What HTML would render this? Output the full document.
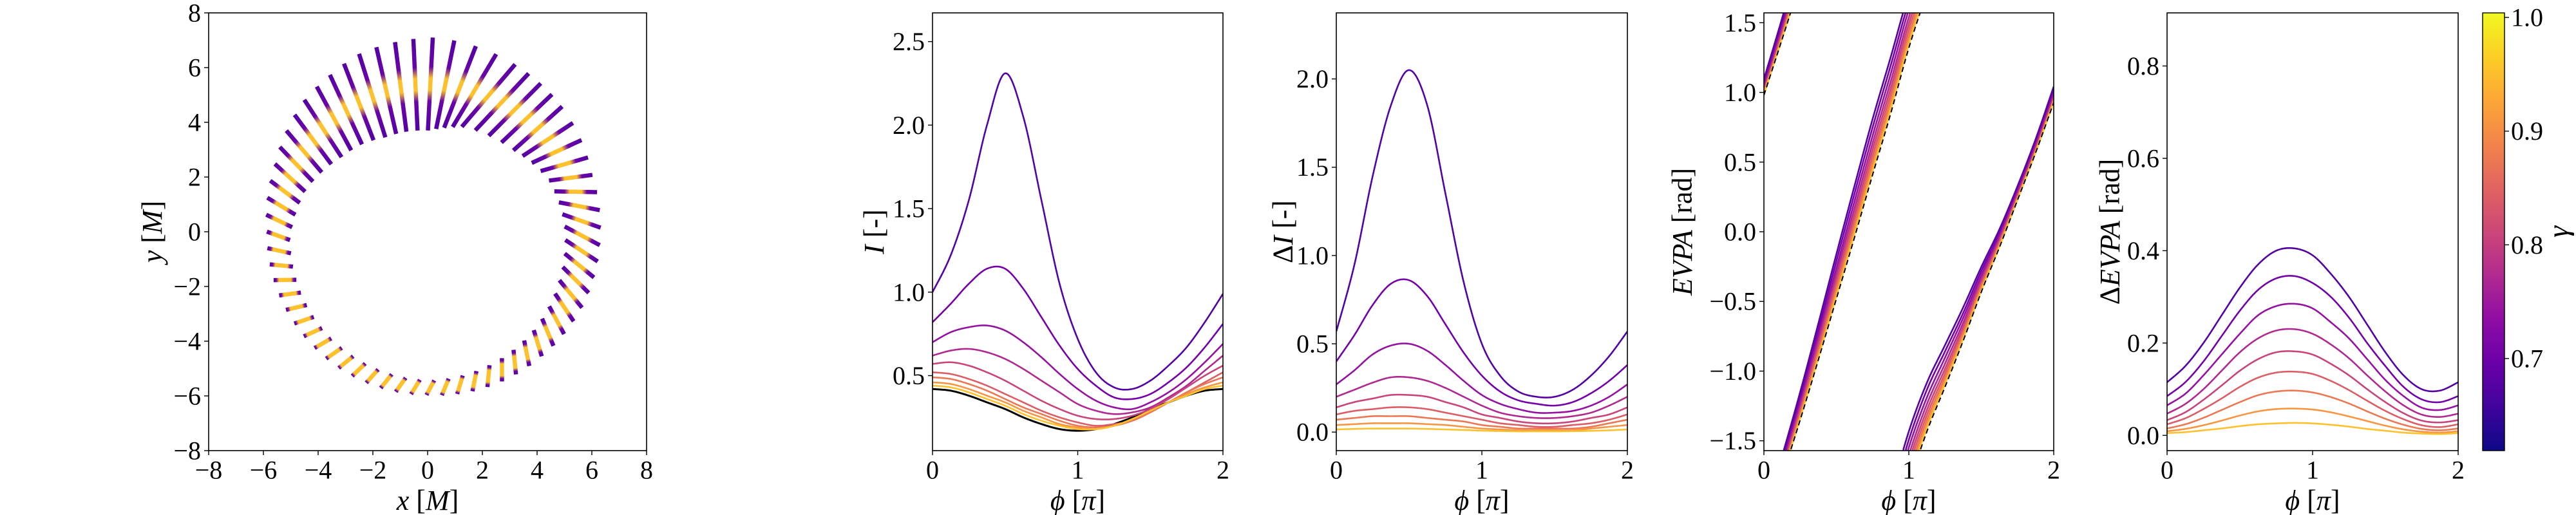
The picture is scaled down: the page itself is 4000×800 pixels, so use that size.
<!DOCTYPE html>
<html><head><meta charset="utf-8">
<style>
html,body{margin:0;padding:0;background:#fff;}
svg{display:block;font-family:"Liberation Serif",serif;}
</style></head>
<body>
<svg id="fig" width="4000" height="800" viewBox="0 0 4000 800" xmlns="http://www.w3.org/2000/svg">
<defs>
<linearGradient id="plasma" x1="0" y1="1" x2="0" y2="0">
<stop offset="0" stop-color="#0d0887"/><stop offset="0.1" stop-color="#41049d"/><stop offset="0.2" stop-color="#6a00a8"/><stop offset="0.3" stop-color="#8f0da4"/><stop offset="0.4" stop-color="#b12a90"/><stop offset="0.5" stop-color="#cc4778"/><stop offset="0.6" stop-color="#e16462"/><stop offset="0.7" stop-color="#f2844b"/><stop offset="0.8" stop-color="#fca636"/><stop offset="0.9" stop-color="#fcce25"/><stop offset="1" stop-color="#f0f921"/>
</linearGradient>
</defs>
</svg>
<script>
// ---------- data ----------
const phiGrid = [0,0.125,0.25,0.375,0.5,0.625,0.75,0.875,1,1.125,1.25,1.375,1.5,1.625,1.75,1.875,2];
const curveColors = ['#5302a3','#7401a8','#9511a1','#b02991','#c8447b','#dc5d66','#ec7853','#f89540','#fdc12c'];
const intensity1 = [1.00,1.22,1.55,2.00,2.31,2.05,1.55,1.05,0.72,0.52,0.43,0.42,0.47,0.56,0.67,0.82,0.99];
const intensity2 = [.82,.93,1.05,1.14,1.14,1.02,.85,.68,.54,.44,.37,.36,.39,.46,.55,.67,.81];
const intensity3 = [.70,.76,.79,.80,.77,.70,.61,.51,.42,.35,.31,.30,.34,.40,.48,.58,.69];
const intensity4 = [.62,.65,.66,.64,.60,.54,.47,.40,.33,.29,.27,.28,.31,.37,.44,.53,.62];
const intensity5 = [.57,.58,.56,.52,.47,.41,.35,.30,.26,.24,.24,.26,.30,.36,.43,.50,.56];
const intensity6 = [.52,.51,.48,.44,.39,.34,.29,.25,.22,.20,.21,.23,.28,.34,.40,.46,.52];
const intensity7 = [.49,.48,.45,.41,.36,.31,.27,.23,.20,.19,.20,.23,.28,.34,.40,.45,.49];
const intensity8 = [.46,.45,.42,.38,.34,.29,.25,.21,.19,.18,.20,.24,.29,.34,.39,.43,.46];
const intensity9 = [.44,.43,.40,.36,.32,.27,.23,.20,.18,.18,.20,.24,.29,.34,.38,.42,.44];
const intensityRef = [.42,.41,.38,.34,.30,.25,.21,.18,.17,.18,.21,.25,.30,.34,.38,.41,.42];
const dI1 = [.57,.95,1.45,1.85,2.05,1.85,1.35,.85,.50,.32,.23,.20,.20,.24,.32,.43,.57];
const dI2 = [.40,.55,.72,.84,.86,.77,.61,.45,.32,.23,.18,.16,.15,.17,.22,.29,.38];
const dI3 = [.27,.35,.44,.49,.50,.46,.38,.29,.21,.16,.13,.11,.11,.12,.15,.20,.27];
const dI4 = [.20,.24,.28,.31,.31,.29,.25,.20,.15,.11,.09,.08,.08,.09,.11,.15,.20];
const dI5 = [.14,.17,.19,.21,.21,.20,.17,.14,.10,.08,.06,.05,.05,.06,.08,.10,.14];
const dI6 = [.10,.12,.13,.14,.14,.13,.11,.09,.07,.05,.04,.03,.03,.04,.05,.07,.10];
const dI7 = [.07,.08,.09,.09,.09,.08,.07,.06,.04,.03,.02,.02,.02,.02,.03,.05,.07];
const dI8 = [.04,.045,.05,.05,.05,.045,.04,.03,.02,.015,.01,.01,.01,.01,.02,.03,.04];
const dI9 = [.015,.018,.02,.02,.02,.018,.015,.012,.008,.006,.004,.004,.004,.005,.007,.01,.015];
const evpaRef = [0.98,1.38,1.79,2.22,2.66,3.10,3.55,3.99,4.46,4.85,5.17,5.50,5.85,6.17,6.51,6.85,7.21];
const dE1 = [.115,.15,.20,.26,.32,.37,.40,.405,.39,.35,.30,.24,.18,.13,.10,.097,.115];
const dE2 = [.085,.115,.16,.215,.27,.315,.34,.345,.33,.30,.255,.20,.15,.105,.078,.072,.085];
const dE3 = [.065,.09,.13,.175,.22,.26,.28,.285,.275,.245,.21,.165,.12,.085,.06,.055,.065];
const dE4 = [.047,.068,.10,.14,.18,.21,.227,.23,.22,.197,.167,.13,.095,.065,.045,.04,.047];
const dE5 = [.033,.05,.077,.108,.14,.165,.18,.182,.175,.155,.13,.10,.072,.048,.032,.028,.033];
const dE6 = [.024,.037,.057,.08,.105,.125,.136,.138,.133,.118,.098,.075,.053,.035,.022,.018,.024];
const dE7 = [.015,.024,.038,.055,.072,.087,.095,.097,.093,.083,.069,.052,.036,.023,.014,.011,.015];
const dE8 = [.009,.014,.022,.032,.043,.052,.057,.058,.056,.05,.041,.031,.021,.013,.008,.006,.009];
const dE9 = [.005,.007,.011,.015,.02,.024,.026,.027,.026,.023,.019,.014,.01,.006,.004,.003,.005];
// ring segments: position angle (deg), length [M], tilt (deg)
const segAngles = [];
for (let i=0;i<64;i++) segAngles.push(i*5.625);
const segLengths = [1.45,1.48,1.52,1.56,1.6,1.8,2.0,2.2,2.4,2.55,2.7,2.85,3.0,3.1,3.2,3.3,3.4,3.35,3.3,3.25,3.2,3.0,2.8,2.65,2.5,2.25,2.0,1.75,1.5,1.35,1.2,1.05,0.9,0.88,0.85,0.83,0.8,0.78,0.75,0.73,0.7,0.69,0.68,0.66,0.65,0.64,0.62,0.61,0.6,0.65,0.7,0.75,0.8,0.85,0.9,0.95,1.0,1.08,1.15,1.22,1.3,1.34,1.38,1.42];
const segTilts = [-28,-25,-22,-18,-15,-12,-9,-6,-3,-7,-11,-15,-18,-14,-10,-6,-3,-3,-4,-4,-5,-7,-9,-11,-12,-14,-16,-18,-20,-20,-20,-20,-20,-18,-17,-16,-15,-15,-15,-15,-15,-16,-17,-18,-19,-22,-24,-26,-28,-28,-28,-28];
while (segTilts.length<64) segTilts.push(-28);
const ringTicks = [-8,-6,-4,-2,0,2,4,6,8];
const phiTicks = [0,1,2];

// ---------- helpers ----------
const NS='http://www.w3.org/2000/svg';
const svg=document.getElementById('fig');
function mk(tag,attrs,parent){const e=document.createElementNS(NS,tag);for(const k in attrs)e.setAttribute(k,attrs[k]);(parent||svg).appendChild(e);return e;}
function txt(x,y,s,size,anchor,parent,italic){const t=mk('text',{x:x,y:y,'font-size':size,'text-anchor':anchor||'middle','dominant-baseline':'central'},parent);if(italic)t.setAttribute('font-style','italic');t.textContent=s;return t;}
function cr(arr,t){
  const n=arr.length;let i=Math.floor(t);if(i>=n-1)i=n-2;if(i<0)i=0;const u=t-i;
  const p0=arr[Math.max(i-1,0)],p1=arr[i],p2=arr[i+1],p3=arr[Math.min(i+2,n-1)];
  return 0.5*((2*p1)+(-p0+p2)*u+(2*p0-5*p1+4*p2-p3)*u*u+(-p0+3*p1-3*p2+p3)*u*u*u);
}
function makeAxes(name,x0,x1,y0,y1,xmin,xmax,ymin,ymax){
  const g=mk('g',{});
  
  
  const sx=v=>x0+(v-xmin)/(xmax-xmin)*(x1-x0);
  const sy=v=>y1-(v-ymin)/(ymax-ymin)*(y1-y0);
  const clipId='clip-'+name;
  const cp=mk('clipPath',{id:clipId},g);mk('rect',{x:x0,y:y0,width:x1-x0,height:y1-y0},cp);
  const plot=mk('g',{'clip-path':'url(#'+clipId+')'},g);
  
  
  return {g,plot,sx,sy,x0,x1,y0,y1};
}
function frame(ax){
  const r=mk('rect',{x:ax.x0,y:ax.y0,width:ax.x1-ax.x0,height:ax.y1-ax.y0,fill:'none',stroke:'#000','stroke-width':1.6},ax.g);
  
  
}
function xTicks(ax,ticks,fmt,size){
  ticks.forEach(v=>{const x=ax.sx(v);mk('line',{x1:x,x2:x,y1:ax.y1,y2:ax.y1+7,stroke:'#000','stroke-width':1.4},ax.g);
    const t=txt(x,ax.y1+30,fmt(v),size,'middle',ax.g);
    
    });
}
function yTicks(ax,ticks,fmt,size){
  ticks.forEach(v=>{const y=ax.sy(v);mk('line',{x1:ax.x0-7,x2:ax.x0,y1:y,y2:y,stroke:'#000','stroke-width':1.4},ax.g);
    const t=txt(ax.x0-12,y,fmt(v),size,'end',ax.g);
    
    });
}
function mfmt(v){return v<0?'\u2212'+Math.abs(v):String(v);}
function f1(v){return (v<0?'\u2212':'')+Math.abs(v).toFixed(1);}
function drawCurve(ax,arr,color,w,dash,name){
  let d='';const N=400;
  for(let k=0;k<=N;k++){const t=k/N*(arr.length-1);const phi=cr(phiGrid,t);const v=cr(arr,t);d+=(k?'L':'M')+ax.sx(phi).toFixed(2)+','+ax.sy(v).toFixed(2);}
  const p=mk('path',{d:d,fill:'none',stroke:color,'stroke-width':w},ax.plot);
  if(dash)p.setAttribute('stroke-dasharray',dash);
  
  
}
function xLabel(ax,y){const t=mk('text',{x:(ax.x0+ax.x1)/2,y:y,'font-size':44,'text-anchor':'middle','dominant-baseline':'central'},ax.g);
  t.innerHTML='<tspan font-style="italic">\u03d5</tspan> [<tspan font-style="italic">\u03c0</tspan>]';
  }
function yLabel(ax,x,html){const t=mk('text',{x:0,y:0,'font-size':44,'text-anchor':'middle','dominant-baseline':'central',transform:'translate('+x+',360) rotate(-90)'},ax.g);
  t.innerHTML=html;}

// ---------- panel 1: ring ----------
(function(){
  const ax=makeAxes('ring-panel',324,1004,20,700,-8,8,-8,8);
  const defs=svg.querySelector('defs');
  const cx=0.1,cy=-0.15,R=5.55;
  for(let i=0;i<segAngles.length;i++){
    const th=segAngles[i]*Math.PI/180, L=segLengths[i], dir=(segAngles[i]+segTilts[i])*Math.PI/180;
    const mx=cx+R*Math.cos(th), my=cy+R*Math.sin(th);
    const x1=ax.sx(mx-L/2*Math.cos(dir)),y1=ax.sy(my-L/2*Math.sin(dir));
    const x2=ax.sx(mx+L/2*Math.cos(dir)),y2=ax.sy(my+L/2*Math.sin(dir));
    const gid='sg'+i; const lg=mk('linearGradient',{id:gid,gradientUnits:'userSpaceOnUse',x1:x1,y1:y1,x2:x2,y2:y2},defs);
    const w=Math.min(0.32,0.22/L);
    [[0,'#5402a3'],[Math.max(0.05,0.5-w-0.12),'#6a04a8'],[0.5-w,'#fcc12c'],[0.5+w,'#fcc12c'],[Math.min(0.95,0.5+w+0.12),'#6a04a8'],[1,'#5402a3']].forEach(s=>mk('stop',{offset:s[0],'stop-color':s[1]},lg));
    const ln=mk('line',{x1:x1,y1:y1,x2:x2,y2:y2,stroke:'url(#'+gid+')','stroke-width':6.5},ax.plot);
    
    
  }
  frame(ax);xTicks(ax,ringTicks,mfmt,40);yTicks(ax,ringTicks,mfmt,40);
  const xl=mk('text',{x:664,y:777,'font-size':44,'text-anchor':'middle','dominant-baseline':'central'},ax.g);
  xl.innerHTML='<tspan font-style="italic">x</tspan> [<tspan font-style="italic">M</tspan>]';
  
  yLabel(ax,236,'<tspan font-style="italic">y</tspan> [<tspan font-style="italic">M</tspan>]');
})();

// ---------- panel 2: I ----------
(function(){
  const ax=makeAxes('intensity-panel',1448,1899,20,700,0,2,0.051,2.672);
  const arrs=[intensity1,intensity2,intensity3,intensity4,intensity5,intensity6,intensity7,intensity8,intensity9];
  drawCurve(ax,intensityRef,'#000',3,null,'reference-curve');
  arrs.forEach((a,i)=>drawCurve(ax,a,curveColors[i],2.6,null,'intensity-curve-'+(i+1)));
  frame(ax);xTicks(ax,phiTicks,String,40);yTicks(ax,[0.5,1,1.5,2,2.5],f1,40);
  xLabel(ax,777);yLabel(ax,1357,'<tspan font-style="italic">I</tspan> [-]');
})();

// ---------- panel 3: dI ----------
(function(){
  const ax=makeAxes('delta-intensity-panel',2075,2527,20,700,0,2,-0.105,2.374);
  const arrs=[dI1,dI2,dI3,dI4,dI5,dI6,dI7,dI8,dI9];
  arrs.forEach((a,i)=>drawCurve(ax,a,curveColors[i],2.6,null,'delta-intensity-curve-'+(i+1)));
  frame(ax);xTicks(ax,phiTicks,String,40);yTicks(ax,[0,0.5,1,1.5,2],f1,40);
  xLabel(ax,777);yLabel(ax,1992,'\u0394<tspan font-style="italic">I</tspan> [-]');
})();

// ---------- panel 4: EVPA ----------
(function(){
  const H=Math.PI/2;
  const ax=makeAxes('evpa-panel',2739,3189,20,700,0,2,-H,H);
  function drawWrapped(arr,color,w,dash,name){
    let d='';const N=600;let prev=null;
    for(let k=0;k<=N;k++){const t=k/N*(arr.length-1);const phi=cr(phiGrid,t);let v=cr(arr,t);
      let m=((v+H)%Math.PI+Math.PI)%Math.PI-H;
      const cmd=(prev===null||Math.abs(m-prev)>1.5)?'M':'L';
      if(cmd==='M'&&prev!==null){
        d+='L'+ax.sx(phi).toFixed(2)+','+ax.sy(prev>0?H+0.05:-H-0.05).toFixed(2);
        d+='M'+ax.sx(phi).toFixed(2)+','+ax.sy(m<0?-H-0.05:H+0.05).toFixed(2)+'L';
      } else d+=cmd;
      d+=ax.sx(phi).toFixed(2)+','+ax.sy(m).toFixed(2);prev=m;}
    const p=mk('path',{d:d,fill:'none',stroke:color,'stroke-width':w},ax.plot);
    if(dash)p.setAttribute('stroke-dasharray',dash);
    
    
  }
  const offs=[dE1,dE2,dE3,dE4,dE5,dE6,dE7,dE8,dE9];
  offs.forEach((o,i)=>{const arr=evpaRef.map((v,j)=>v+o[j]);drawWrapped(arr,curveColors[i],2.6,null,'evpa-curve-'+(i+1));});
  drawWrapped(evpaRef,'#000',2,'8,5','evpa-reference-curve');
  frame(ax);xTicks(ax,phiTicks,String,40);yTicks(ax,[-1.5,-1,-0.5,0,0.5,1,1.5],f1,40);
  xLabel(ax,777);yLabel(ax,2612,'<tspan font-style="italic">EVPA</tspan> [rad]');
})();

// ---------- panel 5: dEVPA ----------
(function(){
  const ax=makeAxes('delta-evpa-panel',3365,3817,20,700,0,2,-0.033,0.915);
  const arrs=[dE1,dE2,dE3,dE4,dE5,dE6,dE7,dE8,dE9];
  arrs.forEach((a,i)=>drawCurve(ax,a,curveColors[i],2.6,null,'delta-evpa-curve-'+(i+1)));
  frame(ax);xTicks(ax,phiTicks,String,40);yTicks(ax,[0,0.2,0.4,0.6,0.8],f1,40);
  xLabel(ax,777);yLabel(ax,3276,'\u0394<tspan font-style="italic">EVPA</tspan> [rad]');
})();

// ---------- colorbar ----------
(function(){
  const g=mk('g',{});
  
  
  const x0=3855,x1=3889,y0=20,y1=700,vmin=0.619,vmax=1.004;
  mk('rect',{x:x0,y:y0,width:x1-x0,height:y1-y0,fill:'url(#plasma)',stroke:'#000','stroke-width':1.4},g);
  [0.7,0.8,0.9,1.0].forEach(v=>{const y=y1-(v-vmin)/(vmax-vmin)*(y1-y0);
    mk('line',{x1:x1,x2:x1+7,y1:y,y2:y,stroke:'#000','stroke-width':1.4},g);
    const t=txt(x1+10,y,v.toFixed(1),40,'start',g);
    
    });
  const t=mk('text',{x:0,y:0,'font-size':46,'font-style':'italic','text-anchor':'middle','dominant-baseline':'central',transform:'translate(3972,360) rotate(-90)'},g);
  t.textContent='\u03b3';
  
  
})();
</script>
</body></html>
